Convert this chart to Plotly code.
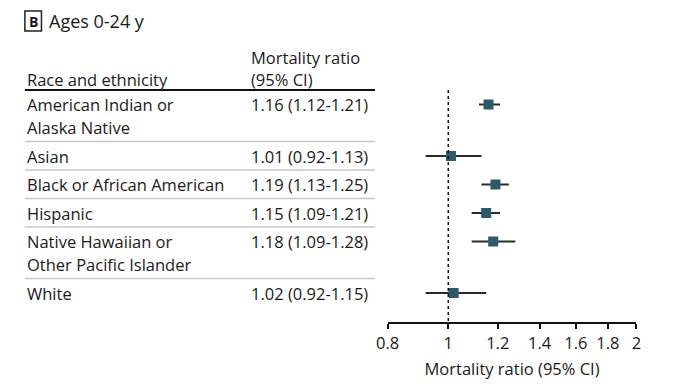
import plotly.graph_objects as go

# ---- data ----
groups = ["American Indian or\nAlaska Native", "Asian", "Black or African American",
          "Hispanic", "Native Hawaiian or\nOther Pacific Islander", "White"]
ratio = [1.16, 1.01, 1.19, 1.15, 1.18, 1.02]
ci_low = [1.12, 0.92, 1.13, 1.09, 1.09, 0.92]
ci_high = [1.21, 1.13, 1.25, 1.21, 1.28, 1.15]
tick_vals = [0.8, 1, 1.2, 1.4, 1.6, 1.8, 2]
tick_text = ["0.8", "1", "1.2", "1.4", "1.6", "1.8", "2"]
panel_letter = "B"
panel_title = "Ages 0-24 y"
col1_header = "Race and ethnicity"
col2_header = ["Mortality ratio", "(95% CI)"]
x_title = "Mortality ratio (95% CI)"

# ---- layout constants (pixels, in the reference picture) ----
W, H = 689, 388
OFF = 8  # page body margin
FONT = "Open Sans"
FS = 16.5
TXT = "#1a1a1a"
TABLE_L, TABLE_R = 13, 372
COL2_X = 243
HEADER_LINE_Y = 90
AXIS_Y = 323
ROW_BASE, LINE_H = 28.5, 23
PLOT_X0, PLOT_X1 = 385, 640


def px(x):
    return (x - OFF) / W


# compute row positions from label line counts
row_tops, row_centers = [], []
top = HEADER_LINE_Y
for g in groups:
    n = len(g.split("\n"))
    row_tops.append(top)
    row_centers.append(top + 14.5)
    top += ROW_BASE + LINE_H * (n - 1)

fig = go.Figure()
fig.add_trace(go.Scatter(
    x=ratio, y=row_centers, mode="markers",
    marker=dict(symbol="square", size=10, color="#2c5a6a", line=dict(width=0)),
    error_x=dict(type="data", symmetric=False,
                 array=[h - r for h, r in zip(ci_high, ratio)],
                 arrayminus=[r - l for r, l in zip(ratio, ci_low)],
                 color="#2a2a2a", thickness=1.8, width=0),
    showlegend=False, hoverinfo="skip"))

annotations = []
shapes = []


def txt(text, x, y, size=FS, anchor="left"):
    annotations.append(dict(text=text, xref="paper", yref="y", x=px(x), y=y,
                            xanchor=anchor, yanchor="middle", showarrow=False,
                            font=dict(size=size, color=TXT, family=FONT)))


# panel label
shapes.append(dict(type="rect", xref="paper", yref="y", x0=px(13), x1=px(30), y0=11, y1=31,
                   line=dict(color="#222", width=1.5)))
txt("<b>" + panel_letter + "</b>", 21.5, 21.5, size=14, anchor="center")
txt(panel_title, 36, 21, size=18)

# headers
txt(col1_header, TABLE_L, 79)
for i, h in enumerate(col2_header):
    txt(h, COL2_X, 57 + 22 * i)
shapes.append(dict(type="line", xref="paper", yref="y", x0=px(TABLE_L), x1=px(TABLE_R),
                   y0=HEADER_LINE_Y, y1=HEADER_LINE_Y, line=dict(color="#111", width=2)))

# rows
for i, g in enumerate(groups):
    for j, line in enumerate(g.split("\n")):
        txt(line, TABLE_L, row_centers[i] + LINE_H * j)
    txt(f"{ratio[i]:.2f} ({ci_low[i]:.2f}-{ci_high[i]:.2f})", COL2_X, row_centers[i])
    if i > 0:
        shapes.append(dict(type="line", xref="paper", yref="y", x0=px(TABLE_L), x1=px(TABLE_R),
                           y0=row_tops[i], y1=row_tops[i], line=dict(color="#c8c8c8", width=1.5)))

# reference line at 1
shapes.append(dict(type="line", xref="x", yref="y", x0=1, x1=1, y0=HEADER_LINE_Y, y1=AXIS_Y,
                   line=dict(color="#111", width=1.5, dash="dot")))

fig.update_layout(
    width=W, height=H, autosize=False,
    margin=dict(l=0, r=0, t=0, b=0),
    paper_bgcolor="white", plot_bgcolor="white",
    annotations=annotations, shapes=shapes,
    xaxis=dict(type="log", domain=[px(PLOT_X0), px(PLOT_X1)],
               range=[-0.09691, 0.30103], anchor="free", position=(H - (AXIS_Y - OFF)) / H,
               tickvals=tick_vals, ticktext=tick_text,
               ticks="outside", ticklen=5, tickwidth=1.5, tickcolor="#111",
               showline=True, linecolor="#111", linewidth=1.5,
               showgrid=False, zeroline=False,
               tickfont=dict(size=FS, color=TXT, family=FONT),
               title=dict(text=x_title, font=dict(size=FS, color=TXT, family=FONT), standoff=10)),
    yaxis=dict(domain=[0, 1], range=[H + OFF, OFF], visible=False, showgrid=False, zeroline=False),
)

fig.write_html("out.html")
